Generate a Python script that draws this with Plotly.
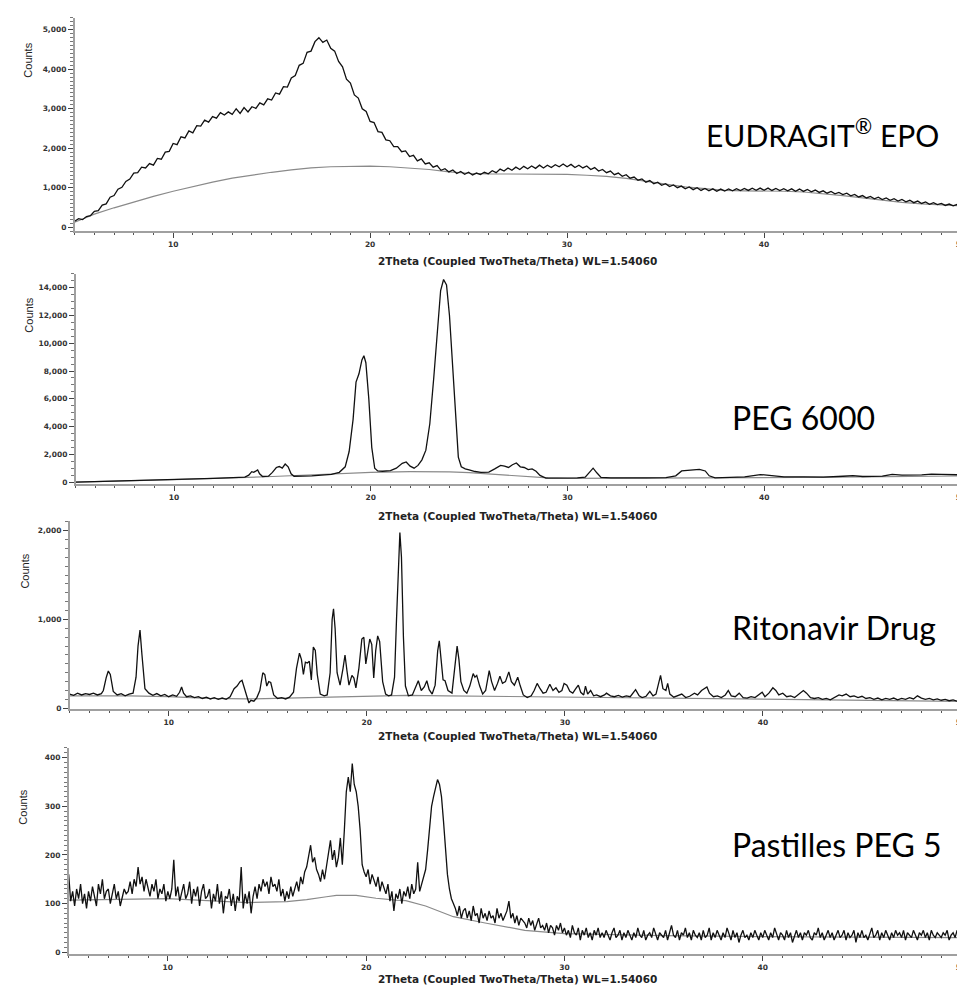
import numpy as np
import plotly.graph_objects as go

# ---------------- DATA ----------------
# Panel 1: EUDRAGIT EPO (0.2 deg step, 5..50)
eud_x = np.linspace(5, 50, 226)
eud_y = [150, 215, 190, 270, 290,
         400, 420, 560, 590, 760,
         800, 960, 1010, 1160, 1220,
         1370, 1380, 1520, 1500, 1610,
         1570, 1740, 1720, 1900, 1920,
         2120, 2090, 2290, 2260, 2440,
         2390, 2570, 2560, 2710, 2660,
         2800, 2760, 2900, 2840, 2920,
         2860, 3000, 2880, 3030, 2920,
         3050, 3010, 3150, 3100, 3250,
         3220, 3400, 3370, 3560, 3550,
         3780, 3840, 4100, 4150, 4430,
         4460, 4700, 4800, 4680, 4740,
         4530, 4460, 4200, 4060, 3750,
         3650, 3350, 3270, 3000, 2930,
         2680, 2650, 2420, 2400, 2210,
         2190, 2040, 2040, 1910, 1930,
         1790, 1820, 1680, 1730, 1600,
         1630, 1520, 1560, 1440, 1480,
         1400, 1450, 1360, 1410, 1340,
         1390, 1320, 1370, 1330, 1390,
         1350, 1430, 1380, 1470, 1420,
         1500, 1440, 1520, 1460, 1540,
         1480, 1550, 1490, 1570, 1500,
         1570, 1510, 1580, 1530, 1600,
         1530, 1590, 1510, 1570, 1500,
         1550, 1460, 1510, 1420, 1460,
         1380, 1420, 1330, 1370, 1290,
         1330, 1240, 1270, 1190, 1220,
         1140, 1180, 1100, 1140, 1060,
         1100, 1030, 1070, 1000, 1040,
         970, 1020, 950, 1000, 930,
         980, 920, 970, 910, 965,
         915, 970, 920, 975, 925,
         980, 930, 985, 935, 990,
         935, 990, 930, 980, 925,
         975, 920, 970, 910, 965,
         905, 955, 895, 940, 880,
         920, 860, 905, 845, 880,
         825, 860, 795, 830, 765,
         800, 740, 780, 720, 760,
         700, 740, 680, 720, 660,
         700, 640, 680, 620, 660,
         600, 640, 580, 620, 570,
         600, 550, 585, 540, 575,
         560]
eud_bg_x = [5, 6, 7, 8, 9, 10, 11, 12, 13, 14, 15, 16, 17, 18, 19, 20, 21, 22, 23, 24, 25, 26, 27,
            28, 29, 30, 31, 32, 33, 34, 35, 36, 37, 38, 39, 40, 41, 42, 43, 44, 45, 46, 47, 48, 49, 50]
eud_bg_y = [125, 330, 490, 640, 780, 910, 1030, 1140, 1240, 1320, 1390, 1450, 1500, 1530, 1545, 1545,
            1530, 1500, 1460, 1400, 1365, 1350, 1350, 1350, 1345, 1335, 1315, 1285, 1235, 1170, 1090,
            1020, 970, 930, 920, 920, 910, 890, 850, 800, 740, 680, 630, 590, 560, 540]

# Panel 2: PEG 6000
peg_x = [5.0, 6, 7, 8, 9, 10, 11, 12, 13, 13.6, 13.8, 13.95, 14.05, 14.15, 14.25, 14.35, 14.5, 14.8,
         15.0, 15.2, 15.35, 15.5, 15.65, 15.8, 15.95, 16.1, 16.5, 17, 17.5, 18, 18.4, 18.7, 18.9,
         19.1, 19.25, 19.4, 19.55, 19.65, 19.75, 19.9, 20.05, 20.2, 20.35, 20.6, 21.0, 21.3, 21.6,
         21.8, 22.0, 22.2, 22.4, 22.6, 22.8, 23.0, 23.2, 23.4, 23.55, 23.7, 23.85, 24.0, 24.15, 24.3,
         24.45, 24.6, 24.8, 25.0, 25.3, 25.6, 26.0, 26.3, 26.6, 26.8, 27.0, 27.2, 27.4, 27.6, 27.8,
         28.0, 28.2, 28.4, 28.6, 28.9, 29.5, 30.0, 30.5, 30.9, 31.1, 31.3, 31.5, 31.7, 32.2, 33, 34,
         35, 35.5, 35.8, 36.1, 36.4, 36.7, 37.0, 37.2, 37.5, 38, 39, 39.8, 40.2, 41, 42, 43, 44, 44.5,
         45, 46, 46.5, 47, 48, 48.5, 49, 49.5, 50]
peg_y = [0, 30, 60, 100, 130, 170, 210, 260, 320, 360, 500, 750, 700, 780, 880, 600, 400, 430,
         700, 1050, 1120, 1000, 1300, 1100, 600, 420, 420, 450, 500, 560, 700, 1100, 2200,
         4500, 7200, 7800, 8800, 9100, 8600, 6000, 2500, 1000, 800, 780, 820, 1000, 1350,
         1450, 1150, 1000, 1200, 1600, 2300, 4200, 7500, 11500, 13800, 14600, 14200, 12000, 8500, 4500,
         1800, 1100, 950, 880, 760, 700, 720, 950, 1200, 1150, 1050, 1250, 1380, 1100, 1050,
         900, 950, 780, 480, 290, 280, 290, 300, 350, 650, 1000, 650, 330, 300, 280, 300,
         320, 450, 800, 850, 880, 920, 800, 450, 300, 310, 380, 540, 480, 380, 380, 360, 420, 460,
         400, 430, 560, 500, 520, 570, 550, 540, 520]
peg_bg_x = [5, 10, 15, 18, 20, 22, 23, 24, 25, 26, 27, 28, 29, 30, 35, 40, 45, 50]
peg_bg_y = [0, 170, 400, 560, 700, 750, 760, 740, 680, 590, 480, 380, 300, 270, 280, 320, 380, 440]

# Panel 3: Ritonavir drug
rit_x = [5.0, 5.2, 5.4, 5.6, 5.8, 6.0, 6.2, 6.4, 6.6, 6.7, 6.85, 6.95, 7.05, 7.2, 7.4, 7.6, 7.8, 8.0,
         8.2, 8.35, 8.45, 8.55, 8.65, 8.8, 9.0, 9.2, 9.4, 9.6, 9.8, 10.0, 10.2, 10.4, 10.55, 10.65,
         10.75, 10.9, 11.1, 11.3, 11.5, 11.7, 11.9, 12.1, 12.3, 12.5, 12.7, 12.9, 13.1, 13.3, 13.45,
         13.6, 13.7, 13.8, 13.95, 14.05, 14.15, 14.3, 14.45, 14.6, 14.75, 14.85, 14.95, 15.05, 15.15,
         15.3, 15.5, 15.7, 15.9, 16.1, 16.3, 16.45, 16.6, 16.7, 16.8, 16.9, 17.0, 17.1, 17.2, 17.3,
         17.4, 17.5, 17.65, 17.85, 18.0, 18.15, 18.25, 18.32, 18.4, 18.5, 18.65, 18.8, 18.9, 19.0,
         19.1, 19.25, 19.35, 19.45, 19.6, 19.75, 19.85, 19.95, 20.05, 20.15, 20.25, 20.35, 20.45,
         20.55, 20.65, 20.8, 20.95, 21.1, 21.25, 21.4, 21.5, 21.6, 21.67, 21.75, 21.85, 21.95, 22.1,
         22.3, 22.5, 22.6, 22.75, 22.9, 23.03, 23.15, 23.3, 23.45, 23.58, 23.66, 23.75, 23.85, 23.95,
         24.1, 24.3, 24.45, 24.56, 24.65, 24.75, 24.9, 25.05, 25.2, 25.37, 25.46, 25.55, 25.7, 25.85,
         26.0, 26.18, 26.3, 26.45, 26.6, 26.72, 26.85, 27.0, 27.17, 27.3, 27.45, 27.62, 27.75, 27.9,
         28.1, 28.3, 28.45, 28.6, 28.75, 28.9, 29.05, 29.24, 29.4, 29.55, 29.7, 29.85, 29.96, 30.1,
         30.25, 30.4, 30.55, 30.68, 30.8, 30.95, 31.04, 31.15, 31.3, 31.45, 31.6, 31.8, 32.0, 32.1,
         32.3, 32.5, 32.7, 32.9, 33.1, 33.3, 33.57, 33.75, 33.9, 34.1, 34.29, 34.45, 34.6, 34.75,
         34.83, 34.95, 35.1, 35.19, 35.3, 35.5, 35.7, 35.9, 36.1, 36.3, 36.54, 36.7, 36.9, 37.05,
         37.17, 37.3, 37.5, 37.7, 37.9, 38.1, 38.25, 38.4, 38.6, 38.8, 39.0, 39.2, 39.4, 39.6, 39.8,
         39.96, 40.1, 40.3, 40.5, 40.65, 40.8, 41.0, 41.2, 41.4, 41.6, 41.8, 42.04, 42.2, 42.4, 42.6,
         42.8, 43.0, 43.2, 43.4, 43.6, 43.84, 44.0, 44.2, 44.4, 44.6, 44.8, 45.0, 45.2, 45.4, 45.6,
         45.8, 46.0, 46.2, 46.4, 46.6, 46.8, 47.0, 47.2, 47.4, 47.6, 47.8, 48.0, 48.2, 48.4, 48.6,
         48.8, 49.0, 49.2, 49.4, 49.6, 49.8, 50.0]
rit_y = [160, 145, 170, 150, 165, 155, 170, 150, 165, 200, 350, 420, 380, 190, 150, 165, 140, 160,
         170, 350, 700, 880, 600, 220, 170, 145, 165, 140, 155, 130, 150, 135, 180, 240,
         170, 130, 140, 120, 130, 110, 125, 105, 120, 100, 115, 100, 130, 220, 250,
         300, 315, 250, 130, 60, 90, 80, 120, 200, 400, 380, 250, 300, 290,
         150, 110, 120, 105, 125, 180, 450, 620, 550, 380, 520, 510, 530, 320, 690,
         650, 380, 160, 140, 150, 400, 1000, 1120, 900, 400, 260, 450, 600, 420,
         260, 370, 340, 230, 450, 780, 800, 500, 620, 780, 720, 340, 650,
         815, 750, 300, 160, 140, 150, 350, 1000, 1700, 1980, 1700, 800, 250, 140,
         150, 260, 310, 200, 240, 310, 210, 160, 260, 650, 760, 550, 320, 310,
         200, 170, 450, 700, 550, 300, 200, 170, 250, 390, 350, 370, 250, 160,
         200, 425, 300, 200, 280, 360, 280, 300, 410, 300, 260, 350, 250, 150,
         120, 140, 200, 280, 220, 170, 180, 270, 200, 230, 180, 200, 280, 260,
         190, 170, 220, 260, 180, 150, 250, 160, 200, 140, 150, 130, 150, 170,
         140, 130, 145, 125, 140, 130, 210, 140, 120, 135, 190, 140, 160, 300,
         370, 220, 200, 280, 160, 125, 140, 160, 120, 135, 170, 150, 200, 220,
         240, 170, 130, 140, 120, 150, 200, 140, 130, 170, 120, 115, 130, 120, 150,
         180, 130, 170, 230, 200, 150, 170, 130, 140, 120, 160, 200, 170, 120, 110,
         120, 100, 110, 95, 120, 150, 140, 160, 130, 140, 120, 135, 110, 120, 100,
         115, 95, 110, 100, 115, 95, 110, 100, 120, 105, 140, 115, 100, 110, 95,
         105, 90, 100, 85, 95, 80, 90]
rit_bg_x = [5, 8, 10, 12, 14, 16, 18, 20, 22, 24, 26, 28, 30, 33, 36, 40, 44, 47, 50]
rit_bg_y = [140, 140, 130, 112, 105, 115, 130, 140, 145, 140, 135, 128, 122, 115, 108, 100, 92, 85, 78]

# Panel 4: Pastilles PEG 5 (0.1 deg step, 5..50)
pas_x = np.linspace(5, 50, 451)
pas_y = [160, 105, 125, 95, 130, 110, 140, 100, 120, 90,
         125, 105, 135, 115, 95, 140, 120, 150, 110, 125,
         130, 100, 120, 140, 110, 125, 95, 115, 130, 120,
         125, 145, 120, 150, 135, 175, 140, 155, 125, 150,
         135, 115, 140, 125, 150, 110, 130, 120, 140, 105,
         125, 110, 130, 190, 115, 135, 105, 125, 140, 110,
         120, 145, 100, 130, 115, 135, 95, 125, 140, 110,
         115, 130, 90, 120, 105, 140, 100, 125, 80, 115,
         110, 130, 95, 120, 85, 115, 105, 175, 90, 120,
         100, 125, 80, 115, 135, 110, 140, 125, 150, 135,
         145, 120, 155, 135, 140, 125, 150, 115, 130, 105,
         125, 110, 135, 115, 130, 145, 125, 155, 140, 165,
         175, 200, 220, 185, 195, 170, 160, 145, 170, 150,
         175, 200, 230, 190, 210, 175, 195, 235, 180, 250,
         330, 360, 330, 388, 345, 330, 300, 250, 180, 165,
         155, 170, 140, 160, 145, 135, 155, 125, 145, 130,
         120, 140, 105, 125, 85, 120, 110, 130, 100, 125,
         115, 135, 110, 140, 120, 130, 185, 125, 140, 150,
         170, 210, 260, 300, 320, 340, 355, 345, 320, 270,
         210, 160, 130, 110, 100, 90, 75, 95, 70, 85,
         90, 70, 85, 65, 95, 75, 80, 60, 90, 70,
         80, 65, 85, 70, 75, 60, 90, 70, 80, 65,
         75, 85, 105, 70, 80, 60, 75, 55, 70, 65,
         60, 50, 70, 55, 65, 45, 60, 70, 50, 55,
         45, 60, 40, 55, 50, 35, 55, 45, 60, 40,
         50, 35, 45, 30, 55, 40, 35, 50, 25, 45,
         35, 50, 30, 40, 25, 45, 35, 50, 30, 40,
         30, 45, 35, 25, 40, 50, 30, 35, 45, 25,
         40, 30, 45, 35, 25, 40, 30, 50, 35, 30,
         45, 25, 35, 40, 30, 50, 35, 25, 40, 35,
         30, 45, 25, 40, 55, 35, 30, 45, 25, 40,
         35, 50, 30, 40, 25, 45, 35, 30, 40, 25,
         45, 30, 35, 50, 25, 40, 30, 45, 35, 25,
         40, 30, 50, 35, 25, 45, 30, 40, 20, 35,
         45, 30, 35, 25, 40, 30, 45, 35, 25, 40,
         30, 45, 35, 25, 40, 30, 50, 35, 25, 40,
         35, 25, 45, 30, 40, 20, 35, 45, 30, 40,
         25, 40, 35, 45, 30, 25, 40, 35, 50, 30,
         40, 25, 35, 45, 30, 40, 25, 35, 45, 30,
         35, 45, 25, 40, 30, 35, 45, 20, 40, 30,
         45, 30, 35, 25, 40, 50, 30, 35, 45, 25,
         40, 30, 45, 35, 25, 40, 30, 45, 35, 40,
         30, 45, 25, 40, 35, 30, 45, 35, 25, 40,
         35, 45, 30, 40, 25, 45, 35, 30, 40, 35,
         30, 40, 35, 45, 25, 35, 40, 30, 45, 35,
         35]
pas_bg_x = [5, 7, 9, 10, 12, 14, 16, 17, 18, 18.5, 19.5, 20.5, 21.5, 22, 23, 24.4, 26, 28, 30, 35, 40, 45, 50]
pas_bg_y = [107, 108, 110, 110, 106, 102, 104, 108, 114, 117, 117, 111, 107, 106, 95, 73, 60, 45, 38, 34, 32, 31, 30]

sample_names = ["EUDRAGIT<sup>®</sup> EPO", "PEG 6000", "Ritonavir Drug", "Pastilles PEG 5"]
x_title = "2Theta (Coupled TwoTheta/Theta) WL=1.54060"
y_title = "Counts"
x_tickvals = [10, 20, 30, 40, 50]

# ---------------- LAYOUT ----------------
W, H = 965, 985
def px_x(p):
    return p / W
def px_y(p):
    return 1 - p / H

# (left px, right px, top px, bottom px, y range, y tickvals, minor dtick)
panels = [
    (67, 958, 10, 224, [-100, 5300], [0, 1000, 2000, 3000, 4000, 5000], 100),
    (68, 958, 267, 478, [-144, 15000], [0, 2000, 4000, 6000, 8000, 10000, 12000, 14000], 500),
    (62, 958, 515, 704, [-10, 2110], [0, 1000, 2000], 100),
    (61, 958, 743, 950, [-4, 420], [0, 100, 200, 300, 400], 10),
]

series = [(eud_x, eud_y, eud_bg_x, eud_bg_y),
          (peg_x, peg_y, peg_bg_x, peg_bg_y),
          (rit_x, rit_y, rit_bg_x, rit_bg_y),
          (pas_x, pas_y, pas_bg_x, pas_bg_y)]

fig = go.Figure()
tickfont = dict(family="DejaVu Sans", size=7.5, color="#333", weight="bold")

for i, ((x, y, bx, by), p) in enumerate(zip(series, panels)):
    n = "" if i == 0 else str(i + 1)
    xa, ya = "x" + n, "y" + n
    fig.add_trace(go.Scatter(x=bx, y=by, mode="lines", line=dict(color="#8a8a8a", width=1.2),
                             xaxis=xa, yaxis=ya, hoverinfo="skip"))
    fig.add_trace(go.Scatter(x=x, y=y, mode="lines", line=dict(color="#111", width=1.3),
                             xaxis=xa, yaxis=ya))
    l, r, t, b, yr, yt, ymin = p
    fig.layout["xaxis" + n] = dict(
        domain=[px_x(l), px_x(r)], range=[5, 50], anchor=ya,
        showline=True, linecolor="#a0a0a0", linewidth=1.5, mirror=False,
        ticks="outside", ticklen=5, tickcolor="#444", tickwidth=1,
        tickmode="array", tickvals=x_tickvals, tickfont=tickfont,
        minor=dict(ticks="outside", tickmode="linear", tick0=0, dtick=1, ticklen=2,
                   tickcolor="#555", tickwidth=1),
        showgrid=False, zeroline=False, fixedrange=True)
    fig.layout["yaxis" + n] = dict(
        domain=[px_y(b), px_y(t)], range=yr, anchor=xa,
        showline=True, linecolor="#a0a0a0", linewidth=1.5,
        ticks="outside", ticklen=5, tickcolor="#444", tickwidth=1,
        tickmode="array", tickvals=yt, tickformat=",d", tickfont=tickfont,
        minor=dict(ticks="outside", tickmode="linear", tick0=0, dtick=ymin, ticklen=3,
                   tickcolor="#777", tickwidth=1),
        showgrid=False, zeroline=False, fixedrange=True)

annotations = []
counts_pos = [(20, 52), (21, 308), (17, 565), (15, 802)]
xtitle_y = [254, 510, 731, 975]
label_pos = [(700, 126), (726, 411), (726, 622), (726, 840)]
label_size = [30, 32, 32, 32]
for i in range(4):
    cx, cy = counts_pos[i]
    annotations.append(dict(x=px_x(cx), y=px_y(cy), xref="paper", yref="paper", text=y_title,
                            showarrow=False, textangle=-90, xanchor="center", yanchor="middle",
                            font=dict(family="Liberation Sans Narrow, Liberation Sans", size=11, color="#222")))
    annotations.append(dict(x=px_x(512), y=px_y(xtitle_y[i]), xref="paper", yref="paper", text=x_title,
                            showarrow=False, xanchor="center", yanchor="middle",
                            font=dict(family="DejaVu Sans", size=10.5, color="#222", weight="bold")))
    lx, ly = label_pos[i]
    annotations.append(dict(x=px_x(lx), y=px_y(ly), xref="paper", yref="paper", text=sample_names[i],
                            showarrow=False, xanchor="left", yanchor="middle",
                            font=dict(family="Lato", size=label_size[i], color="#000")))

fig.update_layout(width=W, height=H, margin=dict(l=0, r=0, t=0, b=0),
                  paper_bgcolor="white", plot_bgcolor="white", showlegend=False,
                  annotations=annotations)

fig.write_html("out.html")
